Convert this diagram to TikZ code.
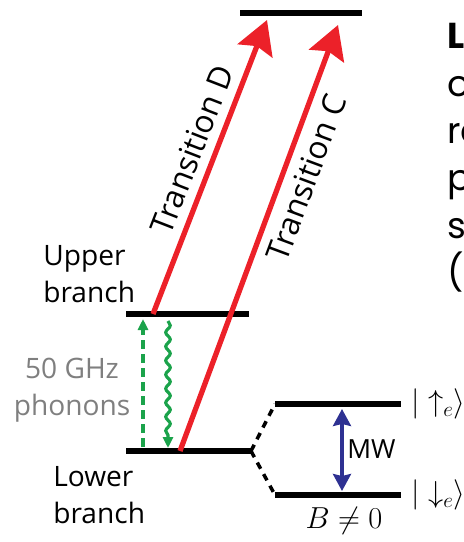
\documentclass[tikz,border=0pt]{standalone}
\usepackage{fontspec}
\newfontfamily\labelfont{Open Sans}
\newfontfamily\bodyfont{Poppins}
\definecolor{transred}{HTML}{EC2129}
\definecolor{phonongreen}{HTML}{1BA34B}
\definecolor{mwblue}{HTML}{2E3192}
\definecolor{labelgray}{HTML}{7F7F7F}
\usetikzlibrary{arrows.meta, positioning, calc, decorations.pathmorphing}

\begin{document}
\begin{tikzpicture}[
    x=0.02cm, y=-0.02cm,
    level/.style={line width=3.4pt, black},
    split/.style={line width=2pt, black, dash pattern=on 4pt off 3.5pt},
    trans/.style={
        line width=3pt,
        color=transred,
        -{Stealth[length=0.66cm, width=0.74cm, inset=0.1cm]},
    },
    translbl/.style={
        font=\labelfont\fontsize{18}{21}\selectfont,
        text=black,
        sloped,
        inner sep=5pt,
    },
    phonon/.style={line width=1.8pt, color=phonongreen,
        -{Triangle[length=0.22cm, width=0.2cm]}},
    mw/.style={line width=1.8pt, color=mwblue,
        {Stealth[length=0.34cm, width=0.36cm, inset=0.04cm]}-{Stealth[length=0.34cm, width=0.36cm, inset=0.04cm]}},
    lbl/.style={font=\labelfont\fontsize{16}{21}\selectfont, inner sep=0pt},
    ket/.style={font=\fontsize{18}{21}\selectfont, anchor=west, inner sep=0pt},
]

\useasboundingbox (0,0) rectangle (464,542);
\clip (0,0) rectangle (464,542);

% energy levels
\coordinate (top-l) at (240,13);
\coordinate (top-r) at (362,13);
\coordinate (up-l) at (126,314);
\coordinate (up-r) at (249,314);
\coordinate (lo-l) at (126,451);
\coordinate (lo-r) at (251,451);
\coordinate (eu-l) at (275,404);
\coordinate (eu-r) at (401,404);
\coordinate (ed-l) at (275,495);
\coordinate (ed-r) at (401,495);

\draw[level] (top-l) -- (top-r);
\draw[level] (up-l) -- (up-r);
\draw[level] (lo-l) -- (lo-r);
\draw[level] (eu-l) -- (eu-r);
\draw[level] (ed-l) -- (ed-r);

\draw[split] (lo-r) -- (eu-l);
\draw[split] (lo-r) -- (ed-l);

% optical transitions
\coordinate (d-start) at (153,314);
\coordinate (d-end) at (267,20);
\coordinate (c-start) at (180,451);
\coordinate (c-end) at (338,25);

\draw[trans] (d-start) -- node[translbl, above, pos=0.53] {Transition D} (d-end);
\draw[trans] (c-start) -- node[translbl, below, pos=0.66] {Transition C} (c-end);

% phonons
\coordinate (ph-a) at (143,447);
\coordinate (ph-b) at (143,319);
\coordinate (ph-c) at (168,321);
\coordinate (ph-d) at (168,448);

\draw[phonon, dash pattern=on 5pt off 3pt] (ph-a) -- (ph-b);
\draw[phonon, decorate,
    decoration={snake, amplitude=1.3pt, segment length=8pt, post length=7pt}]
    (ph-c) -- (ph-d);

% microwave
\coordinate (mw-a) at (342,409);
\coordinate (mw-b) at (342,491);
\draw[mw] (mw-a) -- (mw-b);

% labels
\node[lbl, anchor=west, align=left] (upperlbl) at (43,274) {Upper\\branch};
\node[lbl, align=center, color=labelgray] (phononlbl) at (72,390) {50 GHz\\phonons};
\node[lbl, anchor=west, align=left] (lowerlbl) at (53,495) {Lower\\branch};
\node[lbl, anchor=west, font=\labelfont\fontsize{15}{18}\selectfont] (mwlbl) at (347,449) {MW};

\node[ket] (ketup) at (411,404) {$|\;{\uparrow_e}\rangle$};
\node[ket] (ketdown) at (411,495) {$|\;{\downarrow_e}\rangle$};
\node[font=\fontsize{17}{20}\selectfont, anchor=base, inner sep=0pt] (fieldlbl) at (344,528) {$B\neq 0$};

% side text, cut by the frame
\node[anchor=north west, inner sep=0pt, align=left,
    font=\bodyfont\fontsize{20.5}{27}\selectfont] (sidetext) at (447,23)
    {\textbf{L}\\o\\re\\p\\su\\(1};

\end{tikzpicture}
\end{document}
